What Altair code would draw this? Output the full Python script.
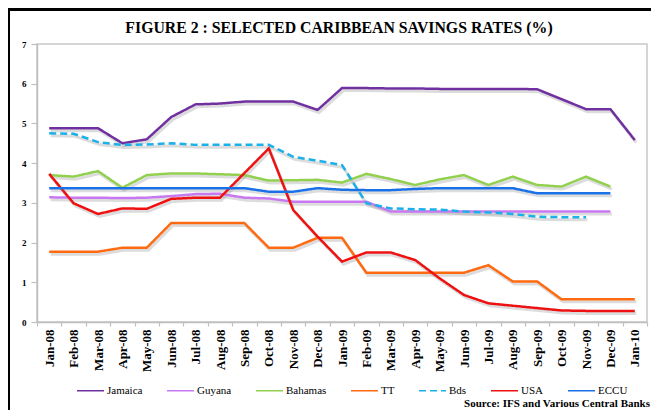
import altair as alt
import pandas as pd

months = ["Jan-08", "Feb-08", "Mar-08", "Apr-08", "May-08", "Jun-08", "Jul-08",
          "Aug-08", "Sep-08", "Oct-08", "Nov-08", "Dec-08", "Jan-09", "Feb-09",
          "Mar-09", "Apr-09", "May-09", "Jun-09", "Jul-09", "Aug-09", "Sep-09",
          "Oct-09", "Nov-09", "Dec-09", "Jan-10"]

series_names = ["Jamaica", "Guyana", "Bahamas", "TT", "Bds", "USA", "ECCU"]
series_colors = ["#7030a0", "#c878f0", "#92d050", "#ff6a10", "#1cb0ea", "#ee1111", "#1a70e6"]

jamaica = [4.88, 4.88, 4.88, 4.50, 4.60, 5.16, 5.48, 5.50, 5.55, 5.55, 5.55, 5.34,
           5.89, 5.89, 5.88, 5.88, 5.87, 5.87, 5.87, 5.87, 5.86, 5.61, 5.36, 5.36, 4.58]
guyana = [3.14, 3.13, 3.13, 3.12, 3.13, 3.17, 3.22, 3.23, 3.13, 3.11, 3.03, 3.03,
          3.03, 3.03, 2.78, 2.78, 2.78, 2.78, 2.78, 2.78, 2.78, 2.78, 2.78, 2.78, None]
bahamas = [3.70, 3.66, 3.80, 3.38, 3.70, 3.74, 3.74, 3.72, 3.70, 3.56, 3.57, 3.58,
           3.51, 3.73, 3.60, 3.45, 3.59, 3.70, 3.45, 3.66, 3.45, 3.41, 3.66, 3.41, None]
tt = [1.77, 1.77, 1.77, 1.87, 1.87, 2.49, 2.49, 2.49, 2.49, 1.87, 1.87, 2.12,
      2.12, 1.24, 1.24, 1.24, 1.24, 1.24, 1.43, 1.02, 1.02, 0.57, 0.57, 0.57, 0.57]
bds = [4.75, 4.74, 4.53, 4.46, 4.47, 4.50, 4.46, 4.46, 4.46, 4.46, 4.16, 4.06,
       3.95, 2.99, 2.86, 2.84, 2.83, 2.78, 2.76, 2.72, 2.65, 2.64, 2.64, None, None]
usa = [3.73, 2.99, 2.72, 2.86, 2.85, 3.10, 3.13, 3.13, 3.75, 4.37, 2.82, 2.15,
       1.52, 1.75, 1.75, 1.56, 1.10, 0.68, 0.47, 0.41, 0.35, 0.29, 0.28, 0.28, 0.28]
eccu = [3.37, 3.37, 3.37, 3.37, 3.37, 3.37, 3.37, 3.37, 3.37, 3.28, 3.28, 3.37,
        3.33, 3.32, 3.32, 3.35, 3.37, 3.37, 3.37, 3.37, 3.24, 3.24, 3.24, 3.24, None]

title_text = "FIGURE 2 : SELECTED CARIBBEAN SAVINGS RATES (%)"
source_text = "Source: IFS and Various Central Banks"

all_values = [jamaica, guyana, bahamas, tt, bds, usa, eccu]
rows = []
for name, vals in zip(series_names, all_values):
    for i, (m, v) in enumerate(zip(months, vals)):
        if v is not None:
            rows.append({"series": name, "month": m, "order": i, "rate": v})
df = pd.DataFrame(rows)

x_enc = alt.X("month:N", sort=months,
              scale=alt.Scale(type="band", paddingInner=0, paddingOuter=0),
              axis=alt.Axis(title=None, labelAngle=-90, labelFont="Liberation Serif",
                            labelFontWeight="bold", labelFontSize=13, labelColor="black",
                            tickColor="#bfbfbf", tickSize=4, tickWidth=1.2,
                            domainColor="#bfbfbf", domainWidth=1.5,
                            tickBand="extent", labelPadding=3))
y_enc = alt.Y("rate:Q", scale=alt.Scale(domain=[0, 7], nice=False),
              axis=alt.Axis(title=None, values=[0, 1, 2, 3, 4, 5, 6, 7], format="d",
                            labelFont="Liberation Serif", labelFontWeight="bold",
                            labelFontSize=9, labelColor="black", grid=False,
                            tickColor="#bfbfbf", tickSize=6, tickWidth=1.2,
                            domainColor="#bfbfbf", domainWidth=1.5, labelPadding=5))

base = alt.Chart(df)

shadow = base.mark_line(strokeWidth=3, color="#9a9a9a", opacity=0.35,
                        xOffset=1.5, yOffset=2.5).encode(
    x=x_enc, y=y_enc, detail="series:N", order="order:Q")

lines = base.mark_line(strokeWidth=2.5).encode(
    x=x_enc, y=y_enc,
    color=alt.Color("series:N", sort=series_names,
                    scale=alt.Scale(domain=series_names, range=series_colors),
                    legend=alt.Legend(title=None)),
    strokeDash=alt.StrokeDash("series:N", sort=series_names,
                              scale=alt.Scale(domain=series_names,
                                              range=[[1, 0], [1, 0], [1, 0], [1, 0], [7, 4], [1, 0], [1, 0]]),
                              legend=alt.Legend(title=None)),
    order="order:Q")

one = pd.DataFrame({"k": [0]})
frame_left = alt.Chart(one).mark_rule(color="black", strokeWidth=3).encode(
    x=alt.value(-28.5), y=alt.value(-40), y2=alt.value(380))
frame_top = alt.Chart(one).mark_rule(color="black", strokeWidth=3).encode(
    x=alt.value(-30), x2=alt.value(630), y=alt.value(-34.5))
title = alt.Chart(one).mark_text(align="center", baseline="middle", font="Liberation Serif",
                                 fontWeight="bold", fontSize=15.8, color="black").encode(
    x=alt.value(302), y=alt.value(-16), text=alt.value(title_text))
source = alt.Chart(one).mark_text(align="right", baseline="middle", font="Liberation Serif",
                                  fontWeight="bold", fontSize=11, color="black").encode(
    x=alt.value(613), y=alt.value(360), text=alt.value(source_text))

chart = alt.layer(shadow, lines, frame_left, frame_top, title, source).properties(
    width=610, height=278,
    autosize=alt.AutoSizeParams(type="none"),
    padding={"left": 29, "top": 36, "right": 4, "bottom": 88},
    background="white",
).configure_view(stroke="#c8c8c8", strokeWidth=1.5).configure_legend(
    orient="none", legendX=39, legendY=332, direction="horizontal",
    symbolType="stroke", symbolSize=729, symbolStrokeWidth=1.5,
    labelFont="Liberation Serif", labelFontSize=11, labelColor="black",
    labelOffset=2, columnPadding=21, padding=0)

chart.save("out.html", embed_options={"renderer": "svg", "actions": False})
